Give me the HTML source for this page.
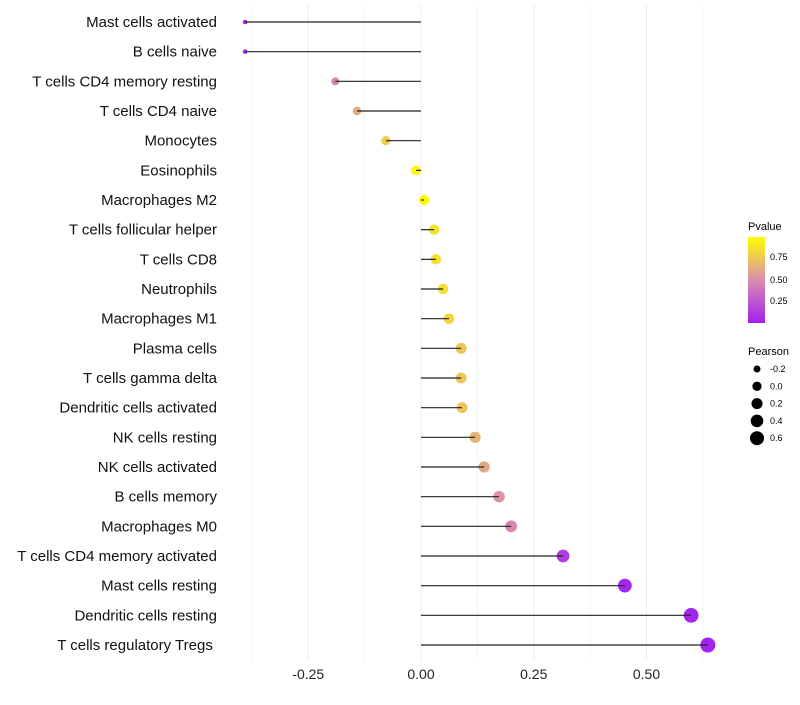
<!DOCTYPE html>
<html><head><meta charset="utf-8"><style>
body{margin:0;background:#fff;font-family:"Liberation Sans",sans-serif}
</style></head><body>
<svg id="c" width="800" height="700" xmlns="http://www.w3.org/2000/svg" font-family="Liberation Sans, sans-serif">
<defs><linearGradient id="g" x1="0" y1="1" x2="0" y2="0">
<stop offset="0" stop-color="#A020F0"/><stop offset="0.5" stop-color="#DA8DAE"/><stop offset="1" stop-color="#FFFF00"/></linearGradient></defs>
<g id="grid"></g>
<g id="marks"></g>
<g id="labels"></g>
<g id="xt"></g>
<g>
<text x="748" y="230" font-size="11">Pvalue</text>
<rect x="748" y="237" width="17" height="86" fill="url(#g)"/>
<text x="770" y="260" font-size="9">0.75</text>
<text x="770" y="283" font-size="9">0.50</text>
<text x="770" y="304" font-size="9">0.25</text>
</g>
<g id="sl">
<text x="748" y="355" font-size="11">Pearson</text>
</g>
</svg>
<script>
const cats=["Mast cells activated","B cells naive","T cells CD4 memory resting","T cells CD4 naive","Monocytes","Eosinophils","Macrophages M2","T cells follicular helper","T cells CD8","Neutrophils","Macrophages M1","Plasma cells","T cells gamma delta","Dendritic cells activated","NK cells resting","NK cells activated","B cells memory","Macrophages M0","T cells CD4 memory activated","Mast cells resting","Dendritic cells resting","T cells regulatory  Tregs\u00a0"];
const pearson=[-0.39,-0.39,-0.19,-0.142,-0.078,-0.011,0.007,0.029,0.033,0.049,0.062,0.089,0.089,0.091,0.12,0.14,0.173,0.2,0.315,0.452,0.599,0.636];
const pvals=[0.03,0.03,0.47,0.63,0.78,0.98,0.99,0.88,0.86,0.85,0.82,0.75,0.75,0.74,0.67,0.62,0.53,0.47,0.13,0.03,0.02,0.02];
const xticks=[-0.25,0,0.25,0.5];
const xtickLabels=["-0.25","0.00","0.25","0.50"];
const legendVals=[-0.2,0,0.2,0.4,0.6];
const NS="http://www.w3.org/2000/svg";
const x=v=>421+v*451;
const y=i=>22+i*(623/21);
const r=v=>Math.sqrt(Math.max(2,12.25+(v+0.2)*45.9));
function col(p){const s=[[160,32,240],[218,141,174],[255,255,0]];let a,b,t;if(p<0.5){a=s[0];b=s[1];t=p/0.5}else{a=s[1];b=s[2];t=(p-0.5)/0.5}return `rgb(${a.map((c,k)=>Math.round(c+(b[k]-c)*t)).join(",")})`}
function mk(tag,at,par){const e=document.createElementNS(NS,tag);for(const k in at)e.setAttribute(k,at[k]);document.getElementById(par).appendChild(e);return e}
for(let v=-0.375;v<=0.7;v+=0.125){const l=mk("line",{x1:x(v),x2:x(v),y1:5,y2:660,stroke:"#ececec","stroke-width":Math.abs((v*4)%1)<1e-6?1:0.6},"grid");}
xticks.forEach((v,i)=>{const t=mk("text",{x:x(v),y:679,"font-size":14,"text-anchor":"middle",fill:"#222"},"xt");t.textContent=xtickLabels[i];});
cats.forEach((c,i)=>{
const t=mk("text",{x:217,y:y(i)+5,"font-size":15,"text-anchor":"end",fill:"#111","xml:space":"preserve"},"labels");t.textContent=c;
const p=mk("circle",{cx:x(pearson[i]),cy:y(i),r:r(pearson[i])+0.4,fill:col(pvals[i])},"marks");
const l=mk("line",{x1:x(0),x2:x(pearson[i]),y1:y(i),y2:y(i),stroke:"#222","stroke-width":1.2},"marks");
});
legendVals.forEach((v,i)=>{const yy=369+i*17.3;
const c=mk("circle",{cx:757,cy:yy,r:r(v),fill:"#000"},"sl");
const t=mk("text",{x:770,y:yy+3,"font-size":9},"sl");t.textContent=v===0?"0.0":v.toFixed(1);});
</script>
</body></html>
